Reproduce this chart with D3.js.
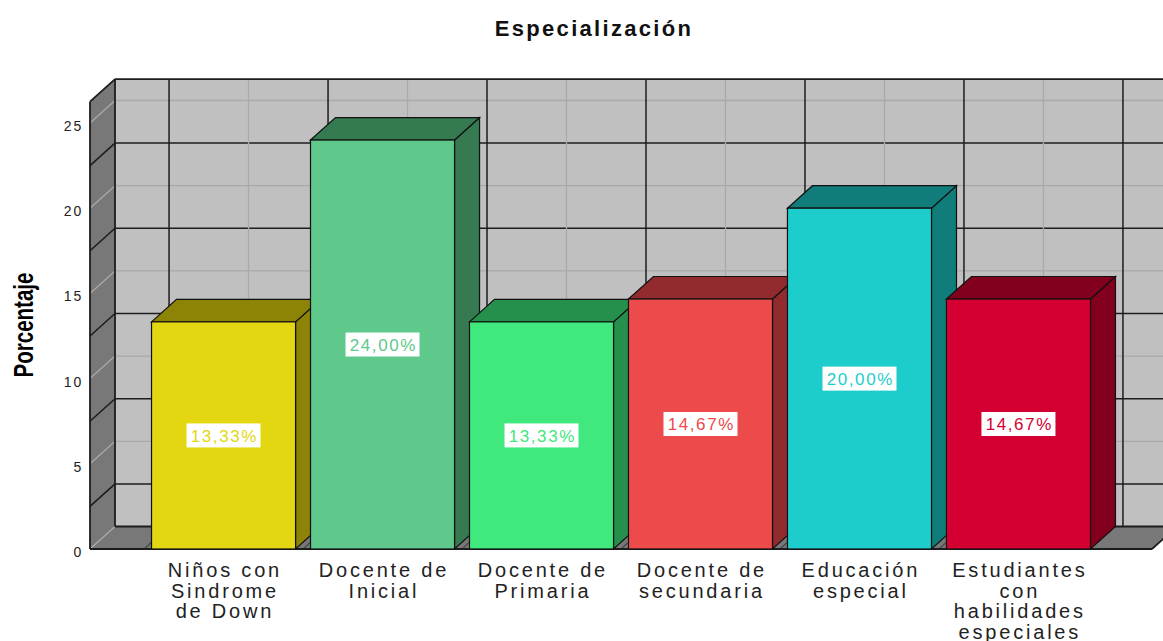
<!DOCTYPE html>
<html>
<head>
<meta charset="utf-8">
<script src="https://cdn.jsdelivr.net/npm/d3@7"></script>
<style>
  body { margin: 0; background: #fff; }
  text { font-family: "Liberation Sans", Arial, sans-serif; }
</style>
</head>
<body>
<div id="chart"></div>
<script>
// datos
const categories = ["Niños con Sindrome de Down", "Docente de Inicial", "Docente de Primaria",
  "Docente de secundaria", "Educación especial", "Estudiantes con habilidades especiales"];
const catLines = [["Niños con", "Sindrome", "de Down"], ["Docente de", "Inicial"], ["Docente de", "Primaria"],
  ["Docente de", "secundaria"], ["Educación", "especial"], ["Estudiantes", "con", "habilidades", "especiales"]];
const values = [13.33, 24.00, 13.33, 14.67, 20.00, 14.67];
const frontColors = ["#e3d712", "#5ec98b", "#40e87e", "#ec4a4b", "#1dcdcc", "#d50032"];
const darkColors = ["#8c8307", "#367a52", "#24904b", "#922b2e", "#117d7b", "#82001e"];
const yTicks = [0, 5, 10, 15, 20, 25];
const gridMinor = [2.5, 7.5, 12.5, 17.5, 22.5];

const W = 1163, H = 641;
const pLeft = 90, pRight = 1152, pBase = 549, pTop = 101.7;
const dx = 25, dy = 22.5;  // profundidad 3D

const svg = d3.select("#chart").append("svg").attr("width", W).attr("height", H);

const x = d3.scaleBand().domain(categories).range([pLeft, pRight])
  .paddingInner(0.094).paddingOuter(0.387);
const y = d3.scaleLinear().domain([0, 26.25]).range([pBase, pTop]);

const fmt = d3.formatLocale({ decimal: ",", thousands: ".", grouping: [3], currency: ["", ""] }).format(".2f");

const dark = "#1c1c1c", light = "#a9a9a9";
const mid = c => x(c) + x.bandwidth() / 2;

/* pared de fondo */
svg.append("rect")
  .attr("x", pLeft + dx).attr("y", pTop - dy)
  .attr("width", pRight - pLeft + 10).attr("height", pBase - pTop)
  .attr("fill", "#c0c0c0");

const back = svg.append("g");
// lineas horizontales
back.selectAll(".hmaj").data(yTicks.filter(d => d > 0)).join("line")
  .attr("x1", pLeft + dx).attr("x2", W)
  .attr("y1", d => y(d) - dy).attr("y2", d => y(d) - dy)
  .attr("stroke", light).attr("stroke-width", 1.3);
back.selectAll(".hmin").data(gridMinor).join("line")
  .attr("x1", pLeft + dx).attr("x2", W)
  .attr("y1", d => y(d) - dy).attr("y2", d => y(d) - dy)
  .attr("stroke", dark).attr("stroke-width", 1.5);
// lineas verticales
back.selectAll(".vc").data(categories).join("line")
  .attr("x1", d => mid(d) + dx).attr("x2", d => mid(d) + dx)
  .attr("y1", pTop - dy).attr("y2", pBase - dy)
  .attr("stroke", light).attr("stroke-width", 1.3);
back.selectAll(".vb").data(categories).join("line")
  .attr("x1", d => mid(d) + x.step() / 2 + dx)
  .attr("x2", d => mid(d) + x.step() / 2 + dx)
  .attr("y1", pTop - dy).attr("y2", pBase - dy)
  .attr("stroke", dark).attr("stroke-width", 1.5);
back.append("line")
  .attr("x1", mid(categories[0]) - x.step() / 2 + dx)
  .attr("x2", mid(categories[0]) - x.step() / 2 + dx)
  .attr("y1", pTop - dy).attr("y2", pBase - dy)
  .attr("stroke", dark).attr("stroke-width", 1.5);

/* pared izquierda */
svg.append("polygon")
  .attr("points", [[pLeft, pBase], [pLeft, pTop], [pLeft + dx, pTop - dy], [pLeft + dx, pBase - dy]].join(" "))
  .attr("fill", "#787878");
svg.selectAll(".lmaj").data(yTicks.filter(d => d > 0)).join("line")
  .attr("x1", pLeft).attr("x2", pLeft + dx)
  .attr("y1", d => y(d)).attr("y2", d => y(d) - dy)
  .attr("stroke", light).attr("stroke-width", 1.3);
svg.selectAll(".lmin").data(gridMinor).join("line")
  .attr("x1", pLeft).attr("x2", pLeft + dx)
  .attr("y1", d => y(d)).attr("y2", d => y(d) - dy)
  .attr("stroke", dark).attr("stroke-width", 1.5);

/* piso */
svg.append("polygon")
  .attr("points", [[pLeft, pBase], [pRight, pBase], [pRight + dx, pBase - dy], [pLeft + dx, pBase - dy]].join(" "))
  .attr("fill", "#787878");
svg.selectAll(".fl").data(categories).join("line")
  .attr("x1", d => mid(d) - x.step() / 2)
  .attr("x2", d => mid(d) - x.step() / 2 + dx)
  .attr("y1", pBase).attr("y2", pBase - dy)
  .attr("stroke", "#4a4a4a").attr("stroke-width", 1.3);
svg.append("line")
  .attr("x1", pLeft).attr("y1", pBase).attr("x2", pLeft + dx).attr("y2", pBase - dy)
  .attr("stroke", light).attr("stroke-width", 1.3);

/* bordes */
const edges = [
  [[pLeft, pBase], [pLeft, pTop]],
  [[pLeft, pTop], [pLeft + dx, pTop - dy]],
  [[pLeft + dx, pTop - dy], [W, pTop - dy]],
  [[pLeft + dx, pTop - dy], [pLeft + dx, pBase - dy]],
  [[pLeft + dx, pBase - dy], [W, pBase - dy]],
  [[pLeft, pBase], [pRight, pBase]],
  [[pRight, pBase], [pRight + dx, pBase - dy]]
];
svg.selectAll(".edge").data(edges).join("line")
  .attr("x1", d => d[0][0]).attr("y1", d => d[0][1])
  .attr("x2", d => d[1][0]).attr("y2", d => d[1][1])
  .attr("stroke", dark).attr("stroke-width", 1.8);

/* barras 3D */
const bars = svg.selectAll(".bar").data(categories).join("g").attr("class", "bar");
bars.each(function (c, i) {
  const g = d3.select(this);
  const x0 = x(c), x1 = x(c) + x.bandwidth(), yt = y(values[i]), y0 = y(0);
  g.append("polygon")
    .attr("points", [[x1, yt], [x1 + dx, yt - dy], [x1 + dx, y0 - dy], [x1, y0]].join(" "))
    .attr("fill", darkColors[i]).attr("stroke", "#111").attr("stroke-width", 1.2);
  g.append("polygon")
    .attr("points", [[x0, yt], [x0 + dx, yt - dy], [x1 + dx, yt - dy], [x1, yt]].join(" "))
    .attr("fill", darkColors[i]).attr("stroke", "#111").attr("stroke-width", 1.2);
  g.append("rect")
    .attr("x", x0).attr("y", yt).attr("width", x1 - x0).attr("height", y0 - yt)
    .attr("fill", frontColors[i]).attr("stroke", "#111").attr("stroke-width", 1.2);
});

/* etiquetas de valor */
const labels = svg.selectAll(".vlab").data(categories).join("g").attr("class", "vlab")
  .attr("transform", (c, i) => `translate(${mid(c)},${(y(values[i]) + y(0)) / 2})`);
labels.append("rect")
  .attr("x", -37).attr("y", -12).attr("width", 74).attr("height", 24)
  .attr("fill", "#fff");
labels.append("text")
  .attr("text-anchor", "middle").attr("dy", "0.36em").attr("dx", 0.8)
  .style("font-size", "17px").style("letter-spacing", "1.6px")
  .attr("fill", (c, i) => frontColors[i])
  .text((c, i) => fmt(values[i]) + "%");

/* eje Y */
svg.selectAll(".ytick").data(yTicks).join("text")
  .attr("x", 83).attr("y", d => y(d) + 8)
  .attr("text-anchor", "end")
  .style("font-size", "14px").style("letter-spacing", "1.8px")
  .attr("fill", "#222")
  .text(d => d);

svg.append("text")
  .attr("transform", "translate(33,325) rotate(-90)")
  .attr("text-anchor", "middle")
  .attr("textLength", 105).attr("lengthAdjust", "spacingAndGlyphs")
  .style("font-size", "27px").style("font-weight", "bold")
  .text("Porcentaje");

/* eje X */
const xl = svg.selectAll(".xlab").data(categories).join("text")
  .attr("text-anchor", "middle")
  .style("font-size", "20px").style("letter-spacing", "2.8px")
  .attr("fill", "#222");
xl.selectAll("tspan").data((c, i) => catLines[i].map(t => [c, t])).join("tspan")
  .attr("x", d => mid(d[0]) + 1.4)
  .attr("y", (d, j) => 577 + j * 20.7)
  .text(d => d[1]);

/* título */
svg.append("text")
  .attr("x", 594).attr("y", 36)
  .attr("text-anchor", "middle")
  .style("font-size", "22px").style("font-weight", "bold").style("letter-spacing", "2.3px")
  .attr("fill", "#111")
  .text("Especialización");
</script>
</body>
</html>
